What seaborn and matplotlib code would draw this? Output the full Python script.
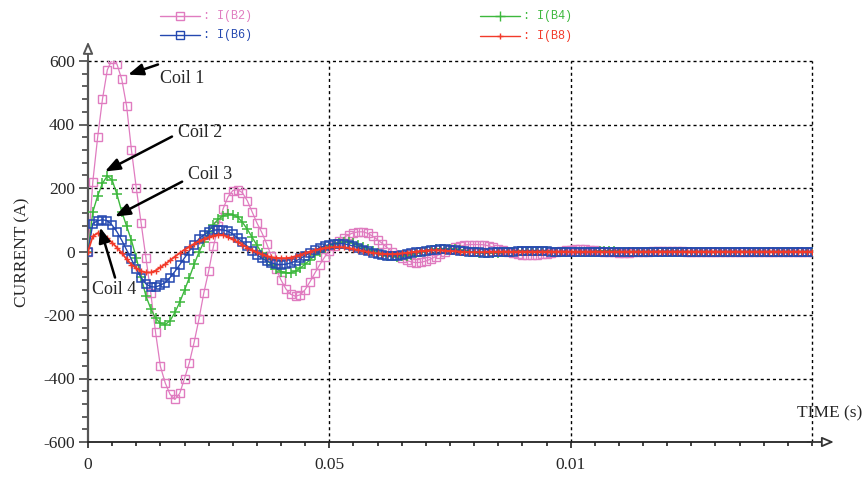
import numpy as np
import pandas as pd
import matplotlib
matplotlib.use("Agg")
import matplotlib.pyplot as plt
from matplotlib.lines import Line2D
from matplotlib.ticker import MultipleLocator, FixedLocator, FixedFormatter
import seaborn as sns

# ---------------- data, one sample per millisecond ----------------
time_ms = list(range(151))

i_b2 = [0, 220, 360, 480, 572, 605, 590, 542, 458, 320,
        200, 90, -20, -130, -255, -362, -414, -450, -466, -447,
        -400, -350, -285, -212, -130, -62, 17, 80, 135, 172,
        192, 195, 185, 160, 125, 90, 60, 25, -15, -55,
        -90, -118, -135, -141, -136, -120, -95, -68, -42, -18,
        2, 18, 32, 44, 53, 59, 62, 62, 57, 48,
        37, 25, 12, 0, -11, -21, -28, -33, -35, -34,
        -30, -24, -16, -8, 0, 7, 13, 17, 20, 22,
        22, 22, 21, 18, 14, 9, 4, -1, -5, -8,
        -10, -11, -11, -10, -9, -7, -4, -1, 2, 4,
        6, 7, 7, 7, 6, 4, 2, 0, -2, -3,
        -4, -4, -4, -3, -2, -1, 0, 1, 2, 2,
        2, 2, 1, 1, 0, -1, -1, -1, -1, -1,
        0, 0, 0, 0, 0, 0, 0, 0, 0, 0,
        0, 0, 0, 0, 0, 0, 0, 0, 0, 0,
        0]

i_b4 = [0, 125, 175, 215, 238, 225, 180, 125, 80, 35,
        -20, -80, -140, -180, -210, -226, -230, -218, -192, -160,
        -122, -82, -40, -2, 30, 62, 85, 102, 112, 117,
        116, 108, 92, 70, 45, 20, -5, -25, -42, -55,
        -63, -67, -67, -62, -52, -40, -26, -12, 0, 10,
        18, 24, 28, 30, 29, 26, 21, 15, 8, 1,
        -5, -10, -13, -15, -16, -15, -13, -10, -6, -2,
        2, 5, 7, 8, 9, 8, 7, 5, 2, 0,
        -2, -4, -5, -5, -5, -4, -3, -1, 0, 1,
        2, 3, 3, 3, 2, 1, 0, -1, -1, -2,
        -2, -2, -1, -1, 0, 0, 1, 1, 1, 1,
        0, 0, 0, 0, 0, 0, 0, 0, 0, 0,
        0, 0, 0, 0, 0, 0, 0, 0, 0, 0,
        0, 0, 0, 0, 0, 0, 0, 0, 0, 0,
        0, 0, 0, 0, 0, 0, 0, 0, 0, 0,
        0]

i_b6 = [0, 88, 97, 100, 97, 83, 62, 35, 5, -25,
        -55, -82, -102, -111, -112, -106, -98, -82, -63, -42,
        -20, 2, 22, 40, 52, 62, 67, 69, 68, 64,
        55, 43, 30, 16, 3, -10, -21, -30, -36, -40,
        -41, -40, -36, -30, -22, -13, -4, 5, 12, 18,
        22, 24, 25, 24, 21, 17, 12, 6, 1, -4,
        -8, -11, -13, -14, -13, -11, -9, -6, -3, 0,
        3, 5, 6, 7, 7, 6, 5, 3, 1, -1,
        -2, -3, -4, -4, -3, -3, -2, -1, 0, 1,
        1, 2, 2, 2, 1, 1, 0, 0, -1, -1,
        -1, 0, 0, 0, 0, 0, 0, 0, 0, 0,
        0, 0, 0, 0, 0, 0, 0, 0, 0, 0,
        0, 0, 0, 0, 0, 0, 0, 0, 0, 0,
        0, 0, 0, 0, 0, 0, 0, 0, 0, 0,
        0, 0, 0, 0, 0, 0, 0, 0, 0, 0,
        0]

i_b8 = [0, 48, 58, 52, 42, 28, 12, -5, -24, -41,
        -53, -62, -66, -66, -60, -50, -40, -28, -16, -5,
        6, 15, 24, 32, 39, 45, 50, 53, 52, 46,
        38, 30, 21, 12, 4, -3, -9, -14, -18, -20,
        -21, -21, -19, -15, -10, -5, 0, 4, 8, 11,
        13, 14, 14, 13, 11, 8, 5, 2, -1, -4,
        -6, -7, -8, -8, -7, -6, -4, -2, 0, 2,
        3, 4, 4, 4, 3, 2, 1, 0, -1, -2,
        -2, -2, -2, -1, -1, 0, 0, 0, 0, 0,
        0, 0, 0, 0, 0, 0, 0, 0, 0, 0,
        0, 0, 0, 0, 0, 0, 0, 0, 0, 0,
        0, 0, 0, 0, 0, 0, 0, 0, 0, 0,
        0, 0, 0, 0, 0, 0, 0, 0, 0, 0,
        0, 0, 0, 0, 0, 0, 0, 0, 0, 0,
        0, 0, 0, 0, 0, 0, 0, 0, 0, 0,
        0]

series_names = ["I(B2)", "I(B4)", "I(B6)", "I(B8)"]
x_tick_values = [0, 0.05, 0.1]
x_tick_labels = ["0", "0.05", "0.01"]
y_tick_values = [-600, -400, -200, 0, 200, 400, 600]
y_tick_labels = ["-600", "-400", "-200", "0", "200", "400", "600"]
coil_labels = ["Coil 1", "Coil 2", "Coil 3", "Coil 4"]

# ---------------- styling ----------------
sns.set_style("ticks")
plt.rcParams["font.family"] = ["Liberation Serif", "DejaVu Serif"]

PINK = "#E07CC0"
GREEN = "#3DB83D"
BLUE = "#2448B0"
RED = "#F23A2A"

W, H = 864, 482
fig = plt.figure(figsize=(W / 100, H / 100), dpi=100)
ax = fig.add_axes([88 / W, 40 / H, 724 / W, 381 / H])

df = pd.DataFrame({
    "t": np.array(time_ms) / 1000.0,
    "I(B2)": i_b2, "I(B4)": i_b4, "I(B6)": i_b6, "I(B8)": i_b8,
})

styles = {
    "I(B2)": dict(color=PINK, marker="s", markersize=6.2, markerfacecolor="none",
                  markeredgecolor=PINK, markeredgewidth=1.0, linewidth=0.9),
    "I(B4)": dict(color=GREEN, marker="+", markersize=7.5, markeredgecolor=GREEN,
                  markeredgewidth=1.1, linewidth=1.0),
    "I(B6)": dict(color=BLUE, marker="s", markersize=5.6, markerfacecolor="none",
                  markeredgecolor=BLUE, markeredgewidth=1.1, linewidth=1.0),
    "I(B8)": dict(color=RED, marker="+", markersize=5, markeredgecolor=RED,
                  markeredgewidth=1.0, linewidth=1.3),
}
for name in series_names:
    sns.lineplot(data=df, x="t", y=name, ax=ax, legend=False, zorder=3, **styles[name])

ax.set_xlim(0, 0.15)
ax.set_ylim(-600, 600)
ax.set_xlabel("")
ax.set_ylabel("")

# grid (dotted)
for yv in [-400, -200, 0, 200, 400, 600]:
    ax.axhline(yv, color="black", lw=1.0, ls=(0, (2.2, 2.2)), zorder=1, clip_on=False)
for xv in [0.05, 0.1, 0.15]:
    ax.axvline(xv, color="black", lw=1.0, ls=(0, (2.2, 2.2)), zorder=1, clip_on=False)

# axes / spines
for s in ["top", "right"]:
    ax.spines[s].set_visible(False)
ax.spines["left"].set_color("#555555")
ax.spines["bottom"].set_color("#222222")
ax.spines["left"].set_linewidth(1.6)
ax.spines["bottom"].set_linewidth(1.3)

ax.xaxis.set_major_locator(FixedLocator(x_tick_values))
ax.xaxis.set_major_formatter(FixedFormatter(x_tick_labels))
ax.xaxis.set_minor_locator(MultipleLocator(0.005))
ax.yaxis.set_major_locator(FixedLocator(y_tick_values))
ax.yaxis.set_major_formatter(FixedFormatter(y_tick_labels))
ax.yaxis.set_minor_locator(MultipleLocator(40))
ax.tick_params(axis="both", which="both", direction="out", bottom=True, left=True,
               top=False, right=False)
ax.tick_params(axis="x", which="both", color="#222222", width=1.2)
ax.tick_params(axis="y", which="both", color="#555555", width=1.3)
ax.tick_params(axis="x", which="major", length=4.5, pad=6, labelsize=12.5)
ax.tick_params(axis="x", which="minor", length=3)
ax.tick_params(axis="y", which="major", length=6.5, pad=3, labelsize=12.5)
ax.tick_params(axis="y", which="minor", length=4.3)

# axis arrows (open heads)
ax.annotate("", xy=(0, 1.058), xytext=(0, 0.99), xycoords="axes fraction",
            arrowprops=dict(arrowstyle="-|>,head_length=0.7,head_width=0.3",
                            fc="white", ec="#555555", lw=1.4), annotation_clip=False)
ax.annotate("", xy=(1.034, 0), xytext=(0.99, 0), xycoords="axes fraction",
            arrowprops=dict(arrowstyle="-|>,head_length=0.7,head_width=0.3",
                            fc="white", ec="#333333", lw=1.3), annotation_clip=False)

# axis titles
fig.text(22 / W, 1 - 252 / H, "CURRENT (A)", rotation=90, ha="center", va="center",
         fontsize=12.5)
fig.text(862 / W, 1 - 413 / H, "TIME (s)", ha="right", va="center", fontsize=12.5)

# coil annotations
arrow_kw = dict(arrowstyle="-|>,head_length=0.9,head_width=0.35", color="black", lw=1.8,
                shrinkA=0, shrinkB=0)
coil_text_pos = [(0.0149, 545), (0.0186, 375), (0.0207, 243), (0.0008, -120)]
coil_arrow_tail = [(0.0145, 589), (0.0174, 362), (0.0195, 220), (0.0056, -82)]
coil_arrow_tip = [(0.0083, 557), (0.0035, 252), (0.0056, 110), (0.0025, 76)]
for lab, tp, tail, tip in zip(coil_labels, coil_text_pos, coil_arrow_tail, coil_arrow_tip):
    ax.text(tp[0], tp[1], lab, ha="left", va="center", fontsize=13, zorder=6)
    ax.annotate("", xy=tip, xytext=tail, arrowprops=arrow_kw, zorder=6)

# legend at top (manual, SPICE-probe style)
leg_items = [
    ("I(B2)", PINK, 160, 16), ("I(B6)", BLUE, 160, 35),
    ("I(B4)", GREEN, 480, 16), ("I(B8)", RED, 480, 36),
]
for name, col, x0, y0 in leg_items:
    st = styles[name]
    yy = 1 - y0 / H
    ln = Line2D([x0 / W, (x0 + 20) / W, (x0 + 40) / W], [yy, yy, yy],
                transform=fig.transFigure, color=col, lw=1.0,
                marker=st["marker"], markevery=[1],
                markersize=st["markersize"] * 0.95,
                markerfacecolor=st.get("markerfacecolor", col),
                markeredgecolor=col, markeredgewidth=1.0)
    fig.add_artist(ln)
    fig.text((x0 + 43) / W, yy, ": " + name, color=col, ha="left", va="center",
             fontsize=8.5, family=["Liberation Mono", "DejaVu Sans Mono"])

fig.savefig("out.png", dpi=100, facecolor="white")
